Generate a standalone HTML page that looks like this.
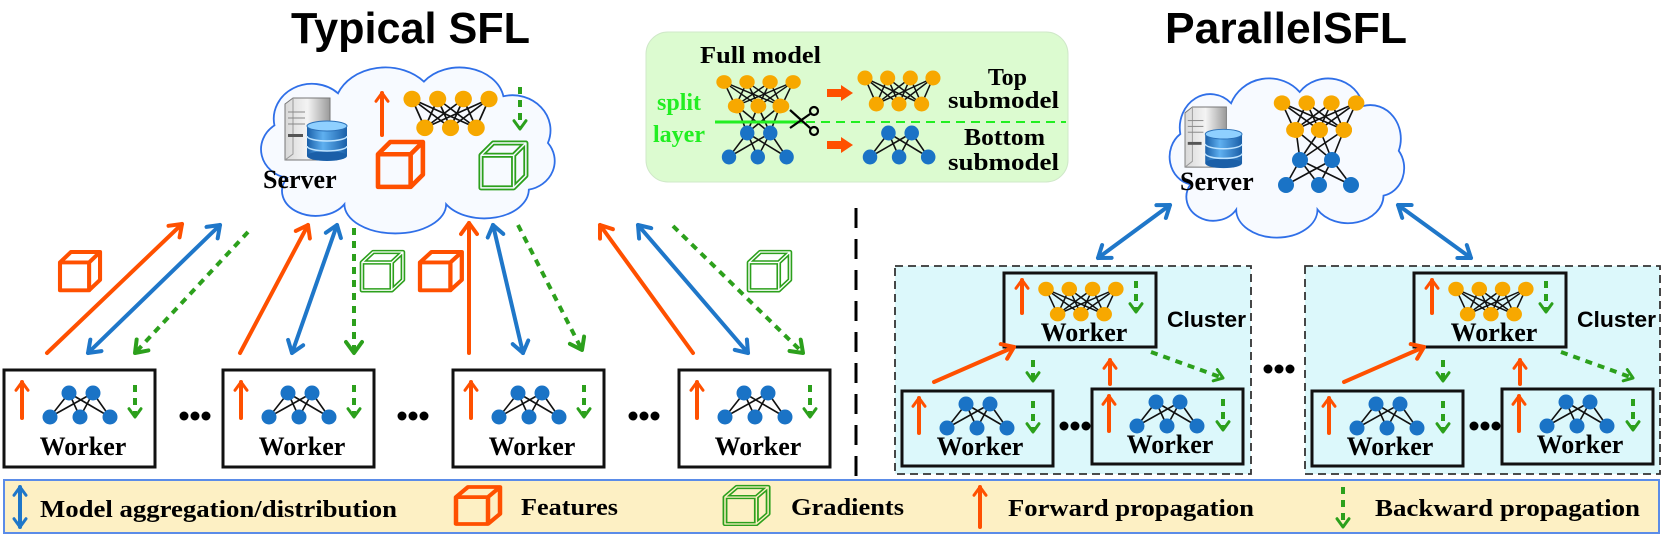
<!DOCTYPE html>
<html><head><meta charset="utf-8"><style>
html,body{margin:0;padding:0;background:#fff;}
svg{display:block;}
.o{stroke:#ff5000;stroke-width:4;fill:none;stroke-linecap:round}
.b{stroke:#1f77c9;stroke-width:4;fill:none;stroke-linecap:round}
.g{stroke:#2ca01c;stroke-width:4;fill:none;stroke-dasharray:7 6}
.wt{font-family:"Liberation Serif",serif;font-weight:bold;font-size:26px;text-anchor:middle;fill:#000}
.lt{font-family:"Liberation Serif",serif;font-weight:bold;font-size:24px;fill:#000}
.nl{stroke:#111;stroke-width:1.6}
</style></head><body>
<svg width="1661" height="536" viewBox="0 0 1661 536" xmlns="http://www.w3.org/2000/svg" xmlns:xlink="http://www.w3.org/1999/xlink">
<defs>
<marker id="mO" viewBox="0 0 20 20" refX="17" refY="10" markerWidth="20" markerHeight="20" markerUnits="userSpaceOnUse" orient="auto-start-reverse"><path d="M6,2 L17,10 L6,18" fill="none" stroke="#ff5000" stroke-width="4" stroke-linecap="round" stroke-linejoin="round"/></marker>
<marker id="mB" viewBox="0 0 20 20" refX="17" refY="10" markerWidth="20" markerHeight="20" markerUnits="userSpaceOnUse" orient="auto-start-reverse"><path d="M6,2 L17,10 L6,18" fill="none" stroke="#1f77c9" stroke-width="4" stroke-linecap="round" stroke-linejoin="round"/></marker>
<marker id="mG" viewBox="0 0 20 20" refX="17" refY="10" markerWidth="20" markerHeight="20" markerUnits="userSpaceOnUse" orient="auto-start-reverse"><path d="M6,2 L17,10 L6,18" fill="none" stroke="#2ca01c" stroke-width="4" stroke-linecap="round" stroke-linejoin="round"/></marker>
<marker id="mOs" viewBox="0 0 20 20" refX="17" refY="10" markerWidth="15" markerHeight="15" markerUnits="userSpaceOnUse" orient="auto-start-reverse"><path d="M6,2 L17,10 L6,18" fill="none" stroke="#ff5000" stroke-width="4" stroke-linecap="round" stroke-linejoin="round"/></marker>
<marker id="mGs" viewBox="0 0 20 20" refX="17" refY="10" markerWidth="15" markerHeight="15" markerUnits="userSpaceOnUse" orient="auto-start-reverse"><path d="M6,2 L17,10 L6,18" fill="none" stroke="#2ca01c" stroke-width="4" stroke-linecap="round" stroke-linejoin="round"/></marker>
<marker id="mBs" viewBox="0 0 20 20" refX="17" refY="10" markerWidth="15" markerHeight="15" markerUnits="userSpaceOnUse" orient="auto-start-reverse"><path d="M6,2 L17,10 L6,18" fill="none" stroke="#1f77c9" stroke-width="4" stroke-linecap="round" stroke-linejoin="round"/></marker>

<linearGradient id="tow" x1="0" x2="1"><stop offset="0" stop-color="#d8d8d8"/><stop offset="0.5" stop-color="#f4f4f4"/><stop offset="1" stop-color="#9a9a9a"/></linearGradient>
<linearGradient id="cyl" x1="0" x2="1"><stop offset="0" stop-color="#1a5fa8"/><stop offset="0.4" stop-color="#5fb0f0"/><stop offset="1" stop-color="#1a5fa8"/></linearGradient>

<g id="srv">
<path d="M0,6 L8,0 H45 V62 H0 Z" fill="url(#tow)" stroke="#777" stroke-width="1"/>
<path d="M8,0 V56 L0,62" fill="none" stroke="#999" stroke-width="1"/>
<line x1="3" y1="14" x2="20" y2="14" stroke="#888"/><line x1="3" y1="20" x2="20" y2="20" stroke="#888"/><line x1="3" y1="26" x2="20" y2="26" stroke="#888"/>
<rect x="3" y="36" width="15" height="3" fill="#555"/>
<rect x="22" y="28" width="40" height="30" fill="url(#cyl)"/>
<ellipse cx="42" cy="58" rx="20" ry="5" fill="#1a5fa8"/>
<ellipse cx="42" cy="28" rx="20" ry="5" fill="#8fd0ff" stroke="#2a70b8"/>
<path d="M22,38 A20,5 0 0 0 62,38 M22,48 A20,5 0 0 0 62,48" fill="none" stroke="#bfe4ff" stroke-width="1.5"/>
</g>

<g id="n43">
<line class="nl" x1="0" y1="0" x2="12" y2="28"/><line class="nl" x1="0" y1="0" x2="36" y2="28"/><line class="nl" x1="0" y1="0" x2="60" y2="28"/>
<line class="nl" x1="24" y1="0" x2="12" y2="28"/><line class="nl" x1="24" y1="0" x2="36" y2="28"/><line class="nl" x1="24" y1="0" x2="60" y2="28"/>
<line class="nl" x1="48" y1="0" x2="12" y2="28"/><line class="nl" x1="48" y1="0" x2="36" y2="28"/><line class="nl" x1="48" y1="0" x2="60" y2="28"/>
<line class="nl" x1="72" y1="0" x2="12" y2="28"/><line class="nl" x1="72" y1="0" x2="36" y2="28"/><line class="nl" x1="72" y1="0" x2="60" y2="28"/>
<circle cx="0" cy="0" r="8"/><circle cx="24" cy="0" r="8"/><circle cx="48" cy="0" r="8"/><circle cx="72" cy="0" r="8"/>
<circle cx="12" cy="28" r="8"/><circle cx="36" cy="28" r="8"/><circle cx="60" cy="28" r="8"/>
</g>
<g id="n23">
<line class="nl" x1="19" y1="0" x2="0" y2="24"/><line class="nl" x1="19" y1="0" x2="30" y2="24"/><line class="nl" x1="19" y1="0" x2="60" y2="24"/>
<line class="nl" x1="43" y1="0" x2="0" y2="24"/><line class="nl" x1="43" y1="0" x2="30" y2="24"/><line class="nl" x1="43" y1="0" x2="60" y2="24"/>
<circle cx="19" cy="0" r="7.5"/><circle cx="43" cy="0" r="7.5"/>
<circle cx="0" cy="24" r="7.5"/><circle cx="30" cy="24" r="7.5"/><circle cx="60" cy="24" r="7.5"/>
</g>
<path id="cubeP" d="M0,12 H32 V44 H0 Z M0,12 L12,0 H44 L32,12 M44,0 V32 L32,44" fill="none" stroke-linejoin="round"/>

<g id="wk">
<rect x="0" y="0" width="151" height="97" fill="#fff" stroke="#111" stroke-width="3"/>
<line class="o" x1="18" y1="48" x2="18" y2="12" marker-end="url(#mOs)"/>
<use href="#n23" x="46" y="23" fill="#1a73c6"/>
<line class="g" x1="131" y1="15" x2="131" y2="47" marker-end="url(#mGs)"/>
</g>
<g id="cw">
<rect x="0" y="0" width="151" height="75" fill="#dcf8fb" stroke="#111" stroke-width="3"/>
<line class="o" x1="17" y1="42" x2="17" y2="7" marker-end="url(#mOs)"/>
<use href="#n23" x="45" y="13" fill="#1a73c6"/>
<line class="g" x1="131" y1="10" x2="131" y2="41" marker-end="url(#mGs)"/>
</g>
<g id="ct">
<rect x="0" y="0" width="152" height="74" fill="#dcf8fb" stroke="#111" stroke-width="3"/>
<line class="o" x1="18" y1="40" x2="18" y2="7" marker-end="url(#mOs)"/>
<use href="#n43" transform="translate(42,16) scale(0.97,0.9)" fill="#f7a800"/>
<line class="g" x1="132" y1="8" x2="132" y2="39" marker-end="url(#mGs)"/>
</g>
<g id="dots"><circle cx="0" cy="0" r="4.5"/><circle cx="11" cy="0" r="4.5"/><circle cx="22" cy="0" r="4.5"/></g>
<path id="cloud" d="M 12,38 A 10,10 0 0 1 8,20 A 12,12 0 0 1 28,9 A 16,14 0 0 1 55,5 A 14,12 0 0 1 80,10 A 12,12 0 0 1 94,26 A 10,10 0 0 1 88,42 A 14,10 0 0 1 62,47 A 16,10 0 0 1 30,47 A 10,8 0 0 1 12,38 Z" fill="#f7faff" stroke="#2f6fe8" stroke-width="1.8" vector-effect="non-scaling-stroke"/>
</defs>

<!-- titles -->
<text x="291" y="43" font-family="Liberation Sans, sans-serif" font-weight="bold" font-size="44" textLength="239" lengthAdjust="spacingAndGlyphs">Typical SFL</text>
<text x="1165" y="43" font-family="Liberation Sans, sans-serif" font-weight="bold" font-size="44" textLength="242" lengthAdjust="spacingAndGlyphs">ParallelSFL</text>

<!-- left cloud -->
<use href="#cloud" transform="translate(249,67) scale(3.18,2.92)"/>
<use href="#srv" transform="translate(285,98)"/>
<text x="263" y="188" class="wt" style="text-anchor:start">Server</text>
<line class="o" x1="382" y1="135" x2="382" y2="93" marker-end="url(#mOs)"/>
<use href="#n43" transform="translate(412,99) scale(1.07,1.03)" fill="#f7a800"/>
<line class="g" x1="520" y1="87" x2="520" y2="129" marker-end="url(#mGs)"/>
<use href="#cubeP" transform="translate(378,142) scale(1.02,1.02)" stroke="#ff5000" stroke-width="4.5"/>
<use href="#cubeP" transform="translate(481,143) scale(1.02,1.02)" stroke="#2ca01c" stroke-width="5"/>
<use href="#cubeP" transform="translate(481,143) scale(1.02,1.02)" stroke="#f7faff" stroke-width="1.5"/>

<!-- center box -->
<rect x="646" y="32" width="422" height="150" rx="22" fill="#dcfbd0" stroke="#cfe8c8" stroke-width="1"/>
<text x="700" y="63" class="lt" font-size="22" textLength="121" lengthAdjust="spacingAndGlyphs">Full model</text>
<text x="657" y="110" class="lt" fill="#22ee22" style="fill:#22ee22" font-size="25">split</text>
<text x="653" y="142" class="lt" style="fill:#22ee22" font-size="25">layer</text>
<use href="#n43" transform="translate(724,82) scale(0.96,0.86)" fill="#f7a800"/>
<g class="nl">
<line x1="737" y1="106" x2="747" y2="133"/><line x1="737" y1="106" x2="770" y2="133"/>
<line x1="758" y1="106" x2="747" y2="133"/><line x1="758" y1="106" x2="770" y2="133"/>
<line x1="780" y1="106" x2="747" y2="133"/><line x1="780" y1="106" x2="770" y2="133"/>
</g>
<use href="#n23" transform="translate(729,133) scale(0.96,1)" fill="#1a73c6"/>
<circle cx="737" cy="106" r="7.5" fill="#f7a800"/><circle cx="758" cy="106" r="7.5" fill="#f7a800"/><circle cx="780" cy="106" r="7.5" fill="#f7a800"/>
<line x1="715" y1="122" x2="803" y2="122" stroke="#22ee22" stroke-width="3"/>
<line x1="806" y1="122" x2="1066" y2="122" stroke="#22ee22" stroke-width="2" stroke-dasharray="9 6"/>
<g stroke="#000" stroke-width="2.2" fill="none">
<line x1="790" y1="110" x2="810" y2="128"/><line x1="790" y1="128" x2="810" y2="114"/>
<circle cx="814" cy="111" r="4"/><circle cx="814" cy="131" r="4"/>
</g>
<path d="M827,89 H841 V85 L853,93 L841,101 V97 H827 Z" fill="#ff5000"/>
<path d="M827,141 H841 V137 L853,145 L841,153 V149 H827 Z" fill="#ff5000"/>
<use href="#n43" transform="translate(865,78) scale(0.944,0.93)" fill="#f7a800"/>
<use href="#n23" transform="translate(870,133) scale(0.97,1)" fill="#1a73c6"/>
<text x="1027" y="85" class="lt" font-size="23" text-anchor="end" style="text-anchor:end">Top</text>
<text x="948" y="108" class="lt" font-size="23" textLength="111" lengthAdjust="spacingAndGlyphs">submodel</text>
<text x="964" y="145" class="lt" font-size="23" textLength="81" lengthAdjust="spacingAndGlyphs">Bottom</text>
<text x="948" y="170" class="lt" font-size="23" textLength="111" lengthAdjust="spacingAndGlyphs">submodel</text>

<!-- right cloud -->
<use href="#cloud" transform="translate(1160,78) scale(2.54,2.8)"/>
<use href="#srv" transform="translate(1185,107) scale(0.92,0.97)"/>
<text x="1180" y="190" class="wt" style="text-anchor:start">Server</text>
<use href="#n43" transform="translate(1282,103) scale(1.03,0.96)" fill="#f7a800"/>
<g class="nl">
<line x1="1296" y1="130" x2="1300" y2="160"/><line x1="1296" y1="130" x2="1332" y2="160"/>
<line x1="1320" y1="130" x2="1300" y2="160"/><line x1="1320" y1="130" x2="1332" y2="160"/>
<line x1="1344" y1="130" x2="1300" y2="160"/><line x1="1344" y1="130" x2="1332" y2="160"/>
<line x1="1300" y1="160" x2="1286" y2="185"/><line x1="1300" y1="160" x2="1319" y2="185"/><line x1="1300" y1="160" x2="1351" y2="185"/>
<line x1="1332" y1="160" x2="1286" y2="185"/><line x1="1332" y1="160" x2="1319" y2="185"/><line x1="1332" y1="160" x2="1351" y2="185"/>
</g>
<g fill="#f7a800"><circle cx="1296" cy="130" r="8"/><circle cx="1320" cy="130" r="8"/><circle cx="1344" cy="130" r="8"/></g>
<g fill="#1a73c6"><circle cx="1300" cy="160" r="8"/><circle cx="1332" cy="160" r="8"/><circle cx="1286" cy="185" r="8"/><circle cx="1319" cy="185" r="8"/><circle cx="1351" cy="185" r="8"/></g>

<!-- divider -->
<line x1="856" y1="208" x2="856" y2="476" stroke="#000" stroke-width="3" stroke-dasharray="20 11"/>

<!-- left connectors -->
<line class="o" x1="47" y1="353" x2="182" y2="224" marker-end="url(#mO)"/>
<line class="b" x1="88" y1="353" x2="220" y2="225" marker-start="url(#mB)" marker-end="url(#mB)"/>
<line class="g" x1="248" y1="232" x2="135" y2="353" marker-end="url(#mG)"/>
<line class="o" x1="240" y1="353" x2="308" y2="225" marker-end="url(#mO)"/>
<line class="b" x1="292" y1="353" x2="337" y2="225" marker-start="url(#mB)" marker-end="url(#mB)"/>
<line class="g" x1="354" y1="228" x2="354" y2="353" marker-end="url(#mG)"/>
<line class="o" x1="469" y1="353" x2="469" y2="223" marker-end="url(#mO)"/>
<line class="b" x1="523" y1="353" x2="493" y2="225" marker-start="url(#mB)" marker-end="url(#mB)"/>
<line class="g" x1="518" y1="225" x2="582" y2="350" marker-end="url(#mG)"/>
<line class="o" x1="693" y1="353" x2="600" y2="225" marker-end="url(#mO)"/>
<line class="b" x1="748" y1="353" x2="638" y2="225" marker-start="url(#mB)" marker-end="url(#mB)"/>
<line class="g" x1="673" y1="226" x2="803" y2="353" marker-end="url(#mG)"/>
<use href="#cubeP" transform="translate(60,252) scale(0.91,0.87)" stroke="#ff5000" stroke-width="4.5"/>
<use href="#cubeP" transform="translate(420,252) scale(0.95,0.87)" stroke="#ff5000" stroke-width="4.5"/>
<use href="#cubeP" transform="translate(362,252) scale(0.93,0.87)" stroke="#2ca01c" stroke-width="5"/>
<use href="#cubeP" transform="translate(362,252) scale(0.93,0.87)" stroke="#fff" stroke-width="1.5"/>
<use href="#cubeP" transform="translate(749,252) scale(0.93,0.87)" stroke="#2ca01c" stroke-width="5"/>
<use href="#cubeP" transform="translate(749,252) scale(0.93,0.87)" stroke="#fff" stroke-width="1.5"/>

<!-- left workers -->
<use href="#wk" x="4" y="370"/><use href="#wk" x="223" y="370"/><use href="#wk" x="453" y="370"/><use href="#wk" x="679" y="370"/>
<text class="wt" x="83" y="455">Worker</text><text class="wt" x="302" y="455">Worker</text><text class="wt" x="532" y="455">Worker</text><text class="wt" x="758" y="455">Worker</text>
<use href="#dots" x="184" y="416"/><use href="#dots" x="402" y="416"/><use href="#dots" x="633" y="416"/>

<!-- right blue arrows -->
<line class="b" x1="1170" y1="205" x2="1098" y2="258" marker-start="url(#mB)" marker-end="url(#mB)"/>
<line class="b" x1="1398" y1="205" x2="1471" y2="258" marker-start="url(#mB)" marker-end="url(#mB)"/>

<!-- clusters -->
<g>
<rect x="895" y="266" width="356" height="208" fill="#dcf8fb" stroke="#333" stroke-width="1.8" stroke-dasharray="8 5"/>
<use href="#ct" x="1004" y="273"/>
<use href="#cw" x="902" y="391"/><use href="#cw" x="1092" y="389"/>
<line class="o" x1="934" y1="382" x2="1014" y2="347" marker-end="url(#mO)"/>
<line class="g" x1="1033" y1="360" x2="1033" y2="381" marker-end="url(#mGs)"/>
<line class="o" x1="1110" y1="384" x2="1110" y2="360" marker-end="url(#mOs)"/>
<line class="g" x1="1151" y1="352" x2="1223" y2="378" marker-end="url(#mGs)"/>
<use href="#dots" x="1064" y="426"/>
</g>
<g transform="translate(410,0)">
<rect x="895" y="266" width="355" height="208" fill="#dcf8fb" stroke="#333" stroke-width="1.8" stroke-dasharray="8 5"/>
<use href="#ct" x="1004" y="273"/>
<use href="#cw" x="902" y="391"/><use href="#cw" x="1092" y="389"/>
<line class="o" x1="934" y1="382" x2="1014" y2="347" marker-end="url(#mO)"/>
<line class="g" x1="1033" y1="360" x2="1033" y2="381" marker-end="url(#mGs)"/>
<line class="o" x1="1110" y1="384" x2="1110" y2="360" marker-end="url(#mOs)"/>
<line class="g" x1="1151" y1="352" x2="1223" y2="378" marker-end="url(#mGs)"/>
<use href="#dots" x="1064" y="426"/>
</g>
<use href="#dots" x="1268" y="369"/>
<text class="wt" x="1084" y="341" font-size="25">Worker</text><text class="wt" x="1494" y="341" font-size="25">Worker</text>
<text class="wt" x="980" y="455" font-size="25">Worker</text><text class="wt" x="1170" y="453" font-size="25">Worker</text>
<text class="wt" x="1390" y="455" font-size="25">Worker</text><text class="wt" x="1580" y="453" font-size="25">Worker</text>
<text x="1167" y="327" font-family="Liberation Sans, sans-serif" font-weight="bold" font-size="22" textLength="79" lengthAdjust="spacingAndGlyphs">Cluster</text>
<text x="1577" y="327" font-family="Liberation Sans, sans-serif" font-weight="bold" font-size="22" textLength="79" lengthAdjust="spacingAndGlyphs">Cluster</text>

<!-- legend -->
<rect x="4" y="480" width="1655" height="53" fill="#fdf0c4" stroke="#5b8ce8" stroke-width="2"/>
<line class="b" x1="20" y1="487" x2="20" y2="527" marker-start="url(#mBs)" marker-end="url(#mBs)"/>
<text class="lt" x="40" y="517" textLength="357" lengthAdjust="spacingAndGlyphs">Model aggregation/distribution</text>
<use href="#cubeP" transform="translate(456,487) scale(1,0.84)" stroke="#ff5000" stroke-width="4.5"/>
<text class="lt" x="521" y="515" textLength="97" lengthAdjust="spacingAndGlyphs">Features</text>
<use href="#cubeP" transform="translate(725,487) scale(0.98,0.84)" stroke="#2ca01c" stroke-width="5"/>
<use href="#cubeP" transform="translate(725,487) scale(0.98,0.84)" stroke="#fdf0c4" stroke-width="1.5"/>
<text class="lt" x="791" y="515" textLength="113" lengthAdjust="spacingAndGlyphs">Gradients</text>
<line class="o" x1="980" y1="527" x2="980" y2="487" stroke-width="3.5" marker-end="url(#mOs)"/>
<text class="lt" x="1008" y="516" textLength="246" lengthAdjust="spacingAndGlyphs">Forward propagation</text>
<line class="g" x1="1343" y1="487" x2="1343" y2="527" marker-end="url(#mGs)"/>
<text class="lt" x="1375" y="516" textLength="265" lengthAdjust="spacingAndGlyphs">Backward propagation</text>
</svg>
</body></html>
